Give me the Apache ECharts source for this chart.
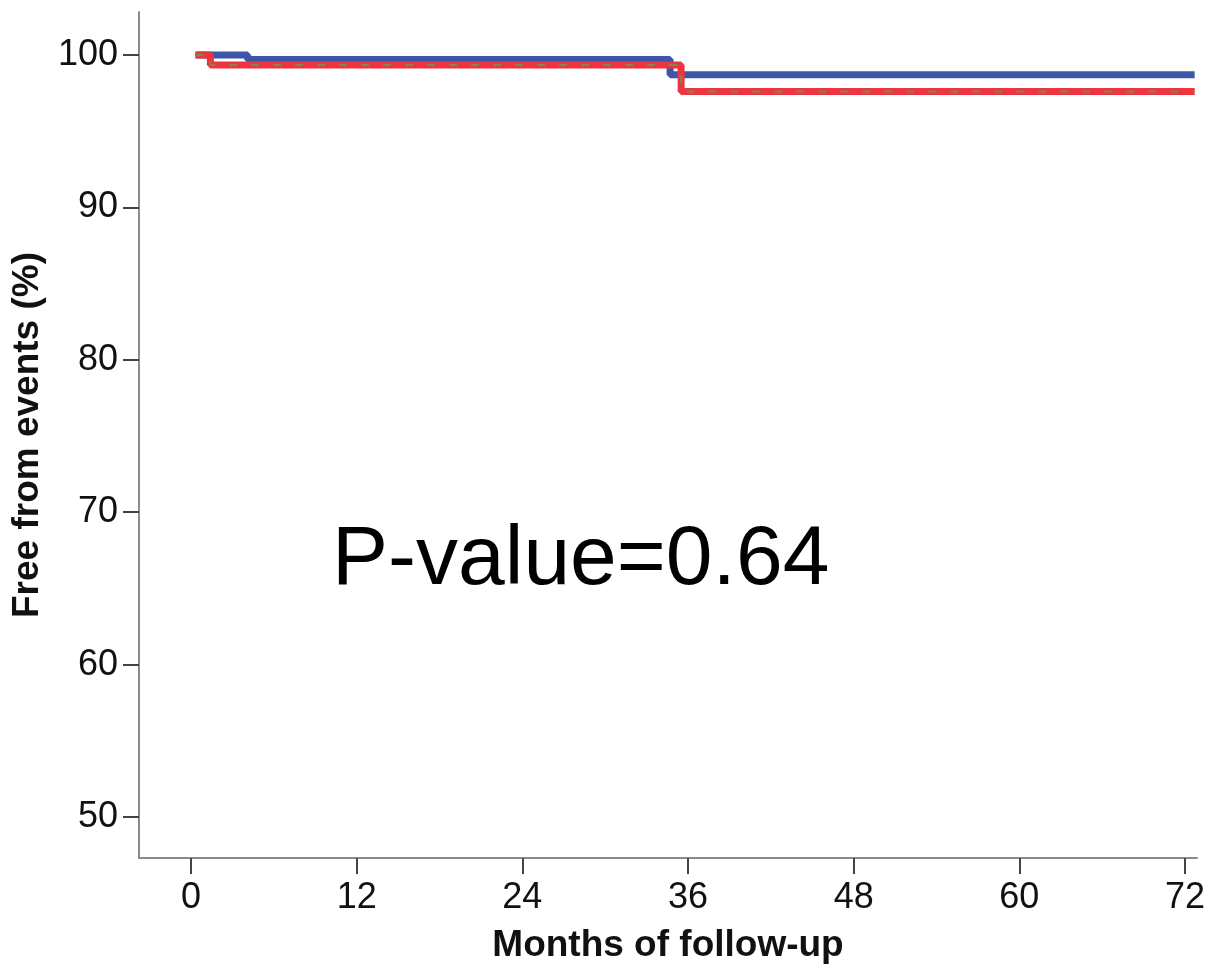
<!DOCTYPE html>
<html>
<head>
<meta charset="utf-8">
<script src="https://cdn.jsdelivr.net/npm/echarts@6/dist/echarts.min.js"></script>
<style>
  html, body { margin: 0; padding: 0; background: #fff; }
  #chart { width: 1210px; height: 970px; }
</style>
</head>
<body>
<div id="chart"></div>
<script>
// tick labels
const xTicks = [0, 12, 24, 36, 48, 60, 72]
const yTicks = [50, 60, 70, 80, 90, 100]
// Kaplan-Meier steps: [month, % free from events]
const blueSteps = [[0.4, 100], [4.1, 99.7], [34.7, 98.7], [72.7, 98.7]]
const redSteps = [[0.3, 100], [1.4, 99.34], [35.5, 97.6], [72.7, 97.6]]
const pText = 'P-value=0.64'

const font = 'Liberation Sans, Arial, sans-serif'

const option = {
  animation: false,
  backgroundColor: '#fff',
  grid: {
    left: 139,
    right: 13,
    top: 12,
    bottom: 112
  },
  xAxis: {
    type: 'value',
    min: -3.77,
    max: 72.87,
    name: 'Months of follow-up',
    nameLocation: 'middle',
    nameGap: 69,
    nameTextStyle: {
      fontFamily: font,
      fontSize: 37,
      fontWeight: 'bold',
      color: '#111',
      verticalAlign: 'top'
    },
    splitLine: { show: false },
    axisLine: { onZero: false, lineStyle: { color: '#8c8c8c', width: 2 } },
    axisTick: {
      customValues: xTicks,
      length: 16,
      lineStyle: { color: '#444', width: 2 }
    },
    axisLabel: {
      customValues: xTicks,
      margin: 22,
      fontFamily: font,
      fontSize: 36,
      color: '#111'
    }
  },
  yAxis: {
    type: 'value',
    min: 47.31,
    max: 102.82,
    name: 'Free from events (%)',
    nameLocation: 'middle',
    nameGap: 93,
    nameTextStyle: {
      fontFamily: font,
      fontSize: 37,
      fontWeight: 'bold',
      color: '#111'
    },
    splitLine: { show: false },
    axisLine: { show: true, onZero: false, lineStyle: { color: '#8c8c8c', width: 2 } },
    axisTick: {
      show: true,
      customValues: yTicks,
      length: 16,
      lineStyle: { color: '#444', width: 2 }
    },
    axisLabel: {
      customValues: yTicks,
      margin: 21,
      fontFamily: font,
      fontSize: 36,
      color: '#111'
    }
  },
  graphic: [
    {
      type: 'text',
      left: 332,
      top: 519,
      style: {
        text: pText,
        font: '84px "Comic Sans MS", "Liberation Sans", Arial, sans-serif',
        fill: '#000'
      }
    }
  ],
  series: [
    {
      name: 'blue',
      type: 'line',
      step: 'end',
      data: blueSteps,
      showSymbol: false,
      lineStyle: { color: '#3d56a8', width: 7 },
      z: 2
    },
    {
      name: 'red',
      type: 'line',
      step: 'end',
      data: redSteps,
      showSymbol: false,
      lineStyle: { color: '#ee3440', width: 7 },
      z: 3
    },
    {
      // thin dashed line on top of the red one
      name: 'red-dash',
      type: 'line',
      step: 'end',
      data: redSteps,
      showSymbol: false,
      lineStyle: { color: '#7c8a48', width: 2, type: [8, 14] },
      z: 4
    }
  ]
}

const myChart = echarts.init(document.getElementById('chart'))
myChart.setOption(option)
</script>
</body>
</html>
